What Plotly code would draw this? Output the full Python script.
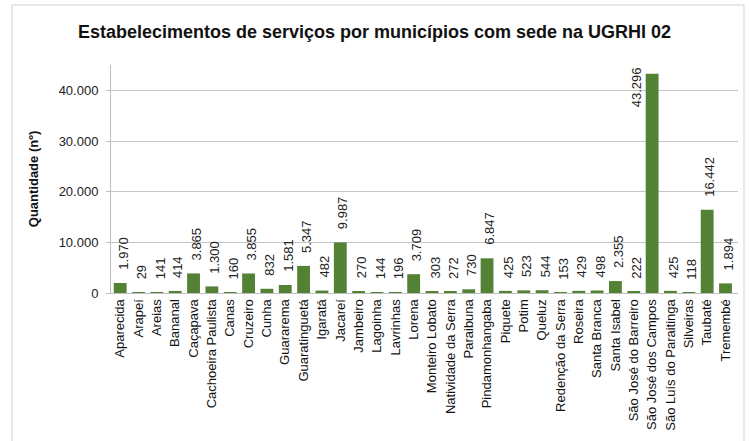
import plotly.graph_objects as go

municipios = [
    "Aparecida", "Arapeí", "Areias", "Bananal", "Caçapava", "Cachoeira Paulista",
    "Canas", "Cruzeiro", "Cunha", "Guararema", "Guaratinguetá", "Igaratá",
    "Jacareí", "Jambeiro", "Lagoinha", "Lavrinhas", "Lorena", "Monteiro Lobato",
    "Natividade da Serra", "Paraibuna", "Pindamonhangaba", "Piquete", "Potim",
    "Queluz", "Redenção da Serra", "Roseira", "Santa Branca", "Santa Isabel",
    "São José do Barreiro", "São José dos Campos", "São Luís do Paraitinga",
    "Silveiras", "Taubaté", "Tremembé",
]
estabelecimentos = [
    1970, 29, 141, 414, 3865, 1300,
    160, 3855, 832, 1581, 5347, 482,
    9987, 270, 144, 196, 3709, 303,
    272, 730, 6847, 425, 523,
    544, 153, 429, 498, 2355,
    222, 43296, 425,
    118, 16442, 1894,
]
y_ticks = [0, 10000, 20000, 30000, 40000]

W, H = 749, 441
ML, MR, MT, MB = 111, 11, 65, 148
YMAX = 45000

def fmt(v):
    return f"{v:,}".replace(",", ".")

fig = go.Figure(go.Bar(
    x=municipios, y=estabelecimentos,
    marker=dict(color="#548235", line=dict(width=0)),
    width=0.7,
))

pw = W - ML - MR
ph = H - MT - MB
ann = []
for m, v in zip(municipios, estabelecimentos):
    label_h = 8 * len(fmt(v))
    top_px = v / YMAX * ph + 12 + label_h
    if top_px > ph + 10:
        # not enough room above: place beside the bar, top-aligned with it
        ann.append(dict(x=m, y=v, text=fmt(v), textangle=-90, showarrow=False,
                        xanchor="right", yanchor="top", xshift=-6, yshift=8,
                        font=dict(size=13, color="#222", family="Liberation Sans, Arial")))
    else:
        ann.append(dict(x=m, y=v, text=fmt(v), textangle=-90, showarrow=False,
                        xanchor="center", yanchor="bottom", xshift=3, yshift=11,
                        font=dict(size=13, color="#222", family="Liberation Sans, Arial")))

# outer chart border
x0 = (12 - ML) / pw
x1 = (744 - ML) / pw
y1 = (H - MB - 5) / ph
y0 = (H - MB - 446) / ph

fig.update_layout(
    width=W, height=H,
    margin=dict(l=ML, r=MR, t=MT, b=MB),
    paper_bgcolor="white", plot_bgcolor="white",
    separators=",.",
    showlegend=False,
    font=dict(family="Liberation Sans, Arial", size=13, color="#222"),
    title=dict(text="<b>Estabelecimentos de serviços por municípios com sede na UGRHI 02</b>",
               x=0.5, xref="container", xanchor="center", y=1 - 32 / H, yanchor="middle",
               font=dict(size=18, color="#111")),
    annotations=ann,
    shapes=[dict(type="rect", xref="paper", yref="paper", x0=x0, x1=x1, y0=y0, y1=y1,
                 line=dict(color="#cfcfcf", width=1), layer="below")],
    bargap=0.3,
)
fig.update_xaxes(
    tickangle=-90, showline=True, linecolor="#bfbfbf", linewidth=1,
    ticks="", tickfont=dict(size=13, color="#111"), showgrid=False,
)
fig.update_yaxes(
    range=[0, YMAX], tickvals=y_ticks, tickformat=",d",
    showline=True, linecolor="#bfbfbf", linewidth=1,
    ticks="outside", ticklen=4, tickcolor="#bfbfbf", ticklabelstandoff=5,
    gridcolor="#c4c4c4", gridwidth=1, zeroline=False,
    tickfont=dict(size=13, color="#222"),
    title=dict(text="<b>Quantidade (nº)</b>", font=dict(size=13, color="#111"), standoff=17),
)

fig.write_html("out.html")
